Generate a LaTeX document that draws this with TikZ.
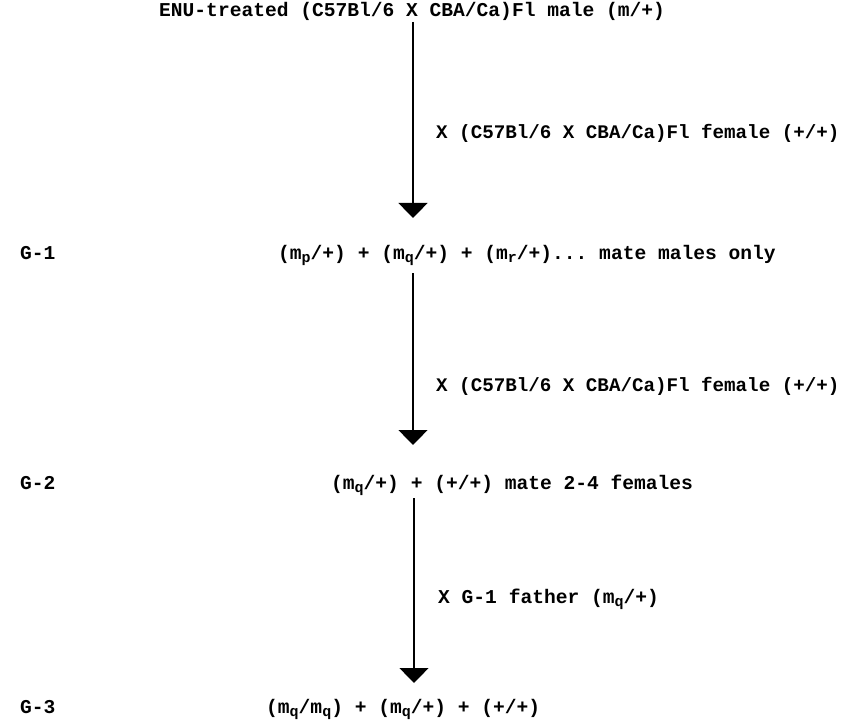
\documentclass[tikz,border=0pt]{standalone}
\usepackage{fontspec}
\setmonofont{Liberation Mono}
\usetikzlibrary{arrows.meta}
\newcommand\subs[1]{\raisebox{-0.3ex}{\fontsize{15}{15}\selectfont #1}}
\begin{document}
\begin{tikzpicture}[x=1pt,y=-1pt,
 txt/.style={font=\ttfamily\bfseries\fontsize{19.6}{22}\selectfont, inner sep=0pt, anchor=base west},
 lab/.style={txt, font=\ttfamily\bfseries\fontsize{19.2}{22}\selectfont},
 arr/.style={line width=1.3pt, -{Triangle[width=29pt,length=15pt]}}]
\useasboundingbox (0,0) rectangle (846,722);
% texts
\node[txt] (title) at (159,17) {ENU-treated (C57Bl/6 X CBA/Ca)Fl male (m/+)};
\node[lab] (lab1) at (436,139) {X (C57Bl/6 X CBA/Ca)Fl female (+/+)};
\node[txt] (g1) at (20,259) {G-1};
\node[txt] (row1) at (278,259) {(m\subs{p}/+) + (m\subs{q}/+) + (m\subs{r}/+)... mate males only};
\node[lab] (lab2) at (436,391) {X (C57Bl/6 X CBA/Ca)Fl female (+/+)};
\node[txt] (g2) at (20,489) {G-2};
\node[txt] (row2) at (331,489) {(m\subs{q}/+) + (+/+) mate 2-4 females};
\node[txt] (lab3) at (438,603) {X G-1 father (m\subs{q}/+)};
\node[txt] (g3) at (20,713) {G-3};
\node[txt] (row3) at (266,713) {(m\subs{q}/m\subs{q}) + (m\subs{q}/+) + (+/+)};
% arrow ends
\coordinate (a1s) at (413,22);
\coordinate (a1e) at (413,218);
\coordinate (a2s) at (413,273);
\coordinate (a2e) at (413,445);
\coordinate (a3s) at (414,498);
\coordinate (a3e) at (414,683);
\draw[arr] (a1s) -- (a1e);
\draw[arr] (a2s) -- (a2e);
\draw[arr] (a3s) -- (a3e);
\end{tikzpicture}
\end{document}
